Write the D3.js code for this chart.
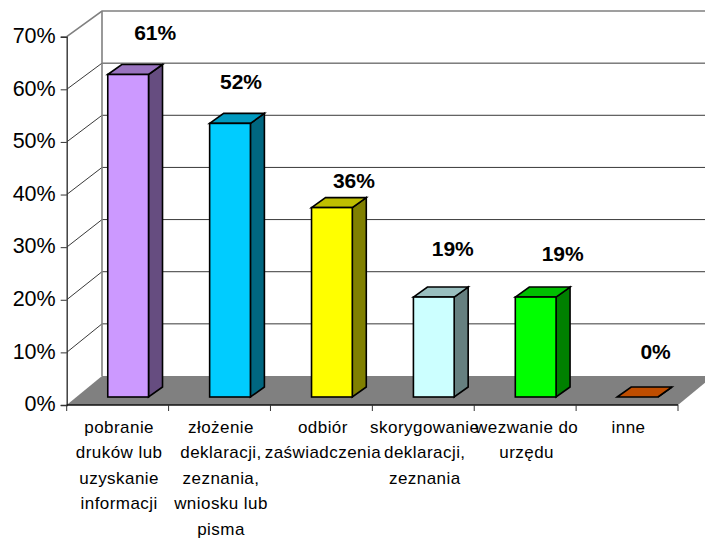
<!DOCTYPE html>
<html><head><meta charset="utf-8">
<script src="https://cdn.jsdelivr.net/npm/d3@7"></script>
<style>html,body{margin:0;padding:0;background:#fff}svg{display:block}text{font-family:"Liberation Sans",Arial,sans-serif;fill:#000}</style>
</head><body><svg id="c" width="705" height="539"></svg>
<script>
const categories = ["pobranie druków lub uzyskanie informacji","złożenie deklaracji, zeznania, wniosku lub pisma","odbiór zaświadczenia","skorygowanie deklaracji, zeznania","wezwanie do urzędu","inne"];
const categoryLines = [["pobranie","druków lub","uzyskanie","informacji"],["złożenie","deklaracji,","zeznania,","wniosku lub","pisma"],["odbiór","zaświadczenia"],["skorygowanie","deklaracji,","zeznania"],["wezwanie do","urzędu"],["inne"]];
const values = [61.3,52,36,19,19,0];
const valueLabels = ["61%","52%","36%","19%","19%","0%"];
const yTicks = [0,10,20,30,40,50,60,70];
const frontColors = ["#CC99FF","#00CCFF","#FFFF00","#CCFFFF","#00FF00","#FF6600"];
const sideColors = ["#664D80","#006680","#808000","#668080","#008000","#803300"];
const topColors = ["#9973BF","#0099BF","#BFBF00","#99BFBF","#00BF00","#BF4D00"];
const labelDx = [9,-7,4,1,9,0];
const labelDy = [-34,-34,-20,-41,-36,-38];

const svg = d3.select("#c");
const y = d3.scaleLinear().domain([0,70]).range([405,36.7]);
const yBack = d3.scaleLinear().domain([0,70]).range([376,11]);
const x = d3.scaleBand().domain(categories).range([66.7,678]).paddingInner(0.6).paddingOuter(0.3);
const backDx = 35.3, barDx = 14, barDy = 10, barShift = 10.5, barBase = 397;
const xR = x.range();
const pts = a => a.map(p=>p.join(",")).join(" ");

// walls and floor
svg.append("rect").attr("x",xR[0]+backDx).attr("y",yBack(70)).attr("width",705).attr("height",yBack(0)-yBack(70)).attr("fill","#fff");
svg.append("polygon").attr("points",pts([[xR[0],y(0)],[xR[0]+backDx,yBack(0)],[xR[1]+backDx,yBack(0)],[xR[1],y(0)]])).attr("fill","#808080");
// gridlines
yTicks.filter(t=>t>0).forEach(t=>{
  const c = t===70 ? "#808080" : "#222";
  const w = t===70 ? 1.6 : 0.9;
  svg.append("polyline").attr("points",pts([[xR[0],y(t)],[xR[0]+backDx,yBack(t)],[705,yBack(t)]])).attr("fill","none").attr("stroke",c).attr("stroke-width",w);
});
svg.append("line").attr("x1",xR[0]+backDx).attr("x2",xR[0]+backDx).attr("y1",yBack(70)).attr("y2",yBack(0)).attr("stroke","#808080").attr("stroke-width",1.6);

// axes
const yAxis = d3.axisLeft(y).tickValues(yTicks).tickFormat(d=>d+"%").tickSize(6).tickPadding(5);
const gy = svg.append("g").attr("transform",`translate(${xR[0]},0)`).call(yAxis);
gy.select(".domain").attr("stroke","#333").attr("stroke-width",1.4);
gy.selectAll(".tick line").attr("stroke","#333");
gy.selectAll("text").attr("font-size",21.5).attr("dy","0.27em").attr("font-family",'"Liberation Sans",Arial,sans-serif').attr("fill","#1a1a1a");

const edges = d3.range(categories.length+1).map(i=>xR[0]+i*x.step());
const g0 = svg.append("g");
g0.append("line").attr("x1",xR[0]).attr("x2",xR[1]).attr("y1",y(0)).attr("y2",y(0)).attr("stroke","#111").attr("stroke-width",1.4);
g0.selectAll(".t").data(edges).join("line").attr("x1",d=>d).attr("x2",d=>d).attr("y1",y(0)).attr("y2",y(0)+6).attr("stroke","#333");

// bars
const h = v => y(0)-y(v);
const bars = svg.append("g").selectAll("g").data(categories).join("g").attr("stroke","#000").attr("stroke-width",1.6).attr("stroke-linejoin","miter");
bars.each(function(c,i){
  const g = d3.select(this), x0 = x(c)+barShift, x1 = x0+x.bandwidth(), b = barBase, t = barBase-h(values[i]);
  g.append("polygon").attr("points",pts([[x1,t],[x1+barDx,t-barDy],[x1+barDx,b-barDy],[x1,b]])).attr("fill",sideColors[i]);
  g.append("polygon").attr("points",pts([[x0,t],[x0+barDx,t-barDy],[x1+barDx,t-barDy],[x1,t]])).attr("fill",topColors[i]);
  g.append("rect").attr("x",x0).attr("y",t).attr("width",x.bandwidth()).attr("height",b-t).attr("fill",frontColors[i]);
});

// value labels
svg.append("g").selectAll("text").data(categories).join("text")
 .attr("x",(c,i)=>x(c)+barShift+x.bandwidth()/2+labelDx[i]+18)
 .attr("y",(c,i)=>barBase-h(values[i])+labelDy[i])
 .attr("text-anchor","middle").attr("font-weight","bold").attr("font-size",21).text((c,i)=>valueLabels[i]);

// category labels
const cat = svg.append("g").selectAll("text").data(categories).join("text")
 .attr("text-anchor","middle").attr("font-size",17).attr("letter-spacing",0.45).attr("fill","#1a1a1a");
cat.each(function(c,i){
  d3.select(this).selectAll("tspan").data(categoryLines[i]).join("tspan")
   .attr("x",x(c)+x.bandwidth()/2+1.5).attr("y",(d,j)=>432.5+j*25.5).text(d=>d);
});
</script></body></html>
